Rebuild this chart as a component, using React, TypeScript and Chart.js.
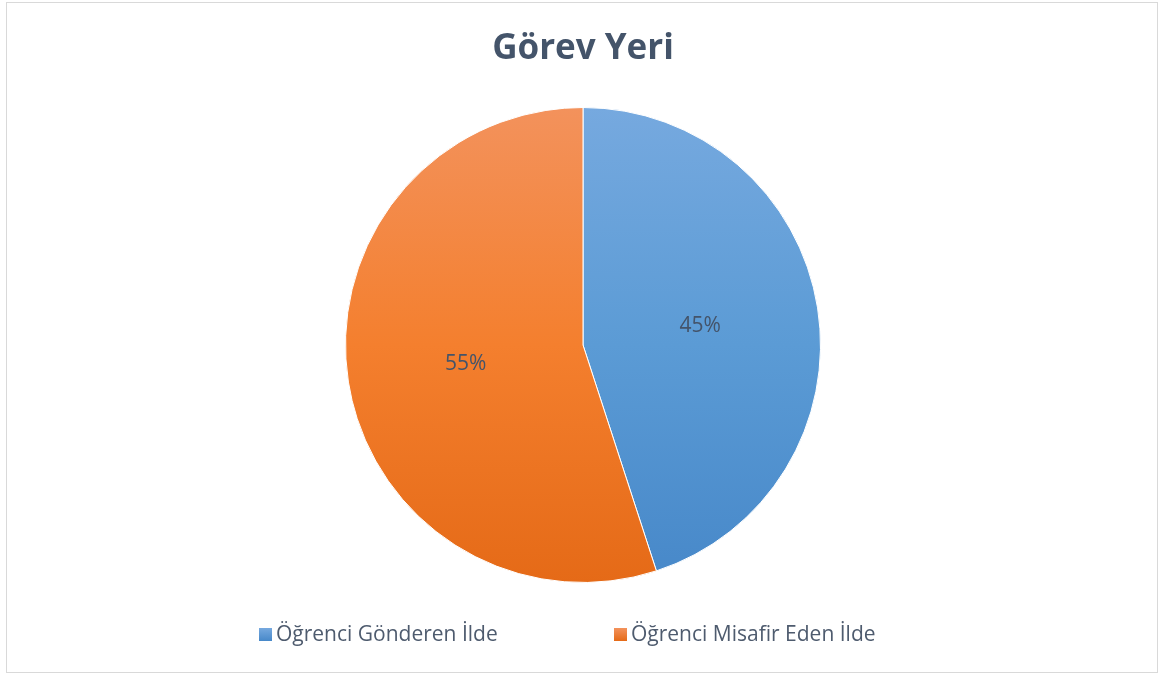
import React, { useEffect, useRef } from "react";
import { Chart, registerables } from "chart.js";

Chart.register(...registerables);

const TITLE = "Görev Yeri";
const categories = ["Öğrenci Gönderen İlde", "Öğrenci Misafir Eden İlde"];
const values = [45, 55];
const gradientTop = ["#76A9DF", "#F3925C"];
const gradientBottom = ["#4788C9", "#E56A17"];
const FONT = "'Open Sans', 'Noto Sans', sans-serif";

const customDraw = {
  id: "customDraw",
  afterDraw(chart: any) {
    const { ctx } = chart;
    ctx.save();
    // outer border
    ctx.strokeStyle = "#D9D9D9";
    ctx.lineWidth = 1;
    ctx.strokeRect(6.5, 2.5, 1151, 670);
    // title
    ctx.fillStyle = "#44546A";
    ctx.font = `bold 35px ${FONT}`;
    ctx.textAlign = "center";
    ctx.textBaseline = "middle";
    ctx.fillText(TITLE, 583, 49);
    // data labels
    const meta = chart.getDatasetMeta(0);
    const total = values.reduce((a, b) => a + b, 0);
    ctx.font = `21px ${FONT}`;
    ctx.fillStyle = "#44546A";
    meta.data.forEach((arc: any, i: number) => {
      const p = arc.tooltipPosition();
      ctx.fillText(Math.round((values[i] / total) * 100) + "%", p.x, p.y);
    });
    // legend
    const boxX = [259, 614];
    ctx.textAlign = "left";
    ctx.font = `21px ${FONT}`;
    categories.forEach((c, i) => {
      const g = ctx.createLinearGradient(0, 628, 0, 641);
      g.addColorStop(0, gradientTop[i]);
      g.addColorStop(1, gradientBottom[i]);
      ctx.fillStyle = g;
      ctx.fillRect(boxX[i], 628, 13, 13);
      ctx.fillStyle = "#4E5B6E";
      ctx.fillText(c, boxX[i] + 17, 635);
    });
    ctx.restore();
  },
};

export default function App() {
  const ref = useRef<HTMLCanvasElement>(null);
  useEffect(() => {
    if (!ref.current) return;
    const chart = new Chart(ref.current, {
      type: "pie",
      data: {
        labels: categories,
        datasets: [
          {
            data: values,
            borderColor: "#FFFFFF",
            borderWidth: 1,
            backgroundColor: (c: any) => {
              const { chart } = c;
              const area = chart.chartArea;
              const i = c.dataIndex ?? 0;
              if (!area) return gradientTop[i];
              const g = chart.ctx.createLinearGradient(0, area.top, 0, area.bottom);
              g.addColorStop(0, gradientTop[i]);
              g.addColorStop(0.5, i === 0 ? "#5B9BD5" : "#F47F2E");
              g.addColorStop(1, gradientBottom[i]);
              return g;
            },
          },
        ],
      },
      options: {
        animation: false,
        responsive: false,
        layout: { padding: { top: 107, bottom: 92, left: 103, right: 100 } },
        plugins: {
          legend: { display: false },
          title: { display: false },
          tooltip: { enabled: false },
        },
      },
      plugins: [customDraw],
    });
    return () => chart.destroy();
  }, []);
  return (
    <div style={{ position: "fixed", left: 0, top: 0, width: 1163, height: 675, background: "#fff" }}>
      <canvas ref={ref} width={1163} height={675} style={{ width: 1163, height: 675, display: "block" }} />
    </div>
  );
}
